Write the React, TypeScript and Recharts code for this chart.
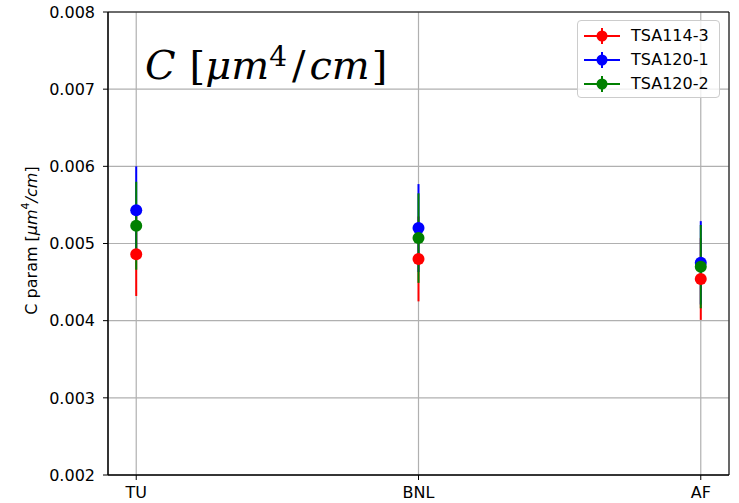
import {
  CartesianGrid,
  ErrorBar,
  ReferenceArea,
  Scatter,
  ScatterChart,
  XAxis,
  YAxis,
  Label,
} from 'recharts'

const categories = ['TU', 'BNL', 'AF']
const yTicks = [0.002, 0.003, 0.004, 0.005, 0.006, 0.007, 0.008]

const tsa1143 = [0.00486, 0.0048, 0.00454]
const tsa1143Err = [0.00054, 0.00055, 0.00053]
const tsa1201 = [0.00543, 0.0052, 0.00475]
const tsa1201Err = [0.00057, 0.00057, 0.00054]
const tsa1202 = [0.00523, 0.00507, 0.0047]
const tsa1202Err = [0.00057, 0.00058, 0.00054]

const series = [
  { name: 'TSA114-3', color: '#ff0000', values: tsa1143, errors: tsa1143Err },
  { name: 'TSA120-1', color: '#0000ff', values: tsa1201, errors: tsa1201Err },
  { name: 'TSA120-2', color: '#008000', values: tsa1202, errors: tsa1202Err },
]

const FONT = '"DejaVu Sans", sans-serif'

const toRows = (values: number[], errors: number[]) =>
  values.map((v, i) => ({ x: i, y: v, err: errors[i] }))

// matplotlib puts every errorbar under every marker, so the bars get their own pass
const noShape = () => <g />

const Dot = (color: string) => (p: any) =>
  <circle cx={p.cx} cy={p.cy} r={6} fill={color} />

function LegendBox() {
  return (
    <div
      style={{
        position: 'absolute',
        left: 577,
        top: 20,
        width: 141,
        height: 76,
        border: '1px solid #cccccc',
        borderRadius: 4,
        background: 'rgba(255,255,255,0.8)',
        fontFamily: FONT,
        fontSize: 16,
      }}
    >
      {series.map((s, i) => (
        <div key={s.name} style={{ position: 'absolute', left: 0, top: 4 + i * 24, height: 22, width: 141 }}>
          <svg width={46} height={22} style={{ position: 'absolute', left: 4, top: 0 }}>
            <line x1={2} y1={11} x2={38} y2={11} stroke={s.color} strokeWidth={2} />
            <line x1={20} y1={3} x2={20} y2={19} stroke={s.color} strokeWidth={2} />
            <circle cx={20} cy={11} r={5.5} fill={s.color} />
          </svg>
          <span style={{ position: 'absolute', left: 53, top: 1, color: '#000', whiteSpace: 'nowrap' }}>{s.name}</span>
        </div>
      ))}
    </div>
  )
}

function YLabel(props: any) {
  const vb = props.viewBox
  const cx = 31
  const cy = vb.y + vb.height / 2 - 3
  return (
    <text
      x={cx}
      y={cy}
      transform={`rotate(-90 ${cx} ${cy})`}
      textAnchor="middle"
      dominantBaseline="central"
      fontFamily={FONT}
      fontSize={16}
      fill="#000"
    >
      C param [<tspan fontStyle="italic">μm</tspan>
      <tspan fontSize={11} dy={-6}>4</tspan>
      <tspan dy={6} fontStyle="italic">/cm</tspan>]
    </text>
  )
}

export default function App() {
  return (
    <div style={{ position: 'absolute', left: 0, top: 0, width: 739, height: 503, background: '#fff' }}>
      <ScatterChart width={739} height={503} margin={{ top: 12, right: 10, bottom: 0, left: 0 }}>
        <CartesianGrid stroke="#b0b0b0" strokeWidth={1.2} />
        <XAxis
          type="number"
          dataKey="x"
          domain={[-0.1, 2.1]}
          ticks={[0, 1, 2]}
          tickFormatter={(v: number) => categories[v]}
          height={28}
          tickSize={5}
          tickMargin={7}
          stroke="#000"
          tick={{ fontSize: 16, fill: '#000', fontFamily: FONT }}
          allowDataOverflow
        />
        <YAxis
          type="number"
          dataKey="y"
          domain={[0.002, 0.008]}
          ticks={yTicks}
          tickFormatter={(v: number) => v.toFixed(3)}
          width={108}
          tickSize={5}
          tickMargin={8}
          stroke="#000"
          tick={{ fontSize: 16, fill: '#000', fontFamily: FONT }}
          allowDataOverflow
        >
          <Label content={<YLabel />} />
        </YAxis>
        <ReferenceArea x1={-0.1} x2={2.1} y1={0.002} y2={0.008} fill="none" stroke="#000" strokeWidth={1} />
        {series.map((s) => (
          <Scatter
            key={`eb-${s.name}`}
            data={toRows(s.values, s.errors)}
            shape={noShape}
            legendType="none"
            isAnimationActive={false}
          >
            <ErrorBar dataKey="err" direction="y" width={0} stroke={s.color} strokeWidth={2} isAnimationActive={false} />
          </Scatter>
        ))}
        {series.map((s) => (
          <Scatter
            key={s.name}
            name={s.name}
            data={toRows(s.values, s.errors)}
            fill={s.color}
            shape={Dot(s.color)}
            isAnimationActive={false}
          />
        ))}
      </ScatterChart>
      <LegendBox />
      <svg width={739} height={120} style={{ position: 'absolute', left: 0, top: 0, pointerEvents: 'none' }}>
        <text x={145} y={79} fontFamily='"DejaVu Serif", serif' fontSize={40} fill="#000">
          <tspan fontStyle="italic">C</tspan>
          <tspan dx={14}>[</tspan>
          <tspan fontStyle="italic">μm</tspan>
          <tspan fontSize={28} dy={-13}>4</tspan>
          <tspan dy={13} dx={5}>/</tspan>
          <tspan fontStyle="italic" dx={4}>cm</tspan>
          <tspan dx={2}>]</tspan>
        </text>
      </svg>
    </div>
  )
}
